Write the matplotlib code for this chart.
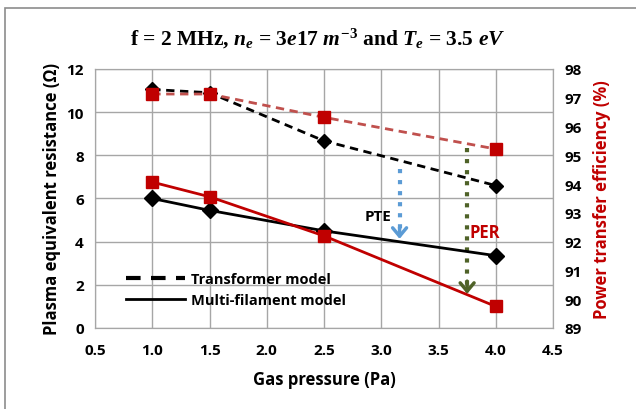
import numpy as np
import matplotlib.pyplot as plt
from matplotlib.lines import Line2D
from matplotlib.patches import Rectangle

plt.rcParams['font.family'] = ['Open Sans', 'DejaVu Sans']
plt.rcParams['mathtext.fontset'] = 'custom'
plt.rcParams['mathtext.rm'] = 'Liberation Serif:bold'
plt.rcParams['mathtext.it'] = 'Liberation Serif:italic:bold'

pressure = [1.0, 1.5, 2.5, 4.0]
# resistance (ohm), left axis
res_transformer = [11.05, 10.9, 8.67, 6.6]
res_filament = [6.0, 5.45, 4.5, 3.35]
# efficiency (%), right axis
eff_transformer = [97.13, 97.13, 96.32, 95.22]
eff_filament = [94.07, 93.56, 92.2, 89.75]

xticks = [0.5, 1.0, 1.5, 2.0, 2.5, 3.0, 3.5, 4.0, 4.5]

fig = plt.figure(figsize=(6.36, 4.10), dpi=100)
fig.patches.append(Rectangle((5/636, -0.1), 1.0, 1.0 - 9/410 + 0.1,
                             transform=fig.transFigure, fill=False,
                             edgecolor='#8c8c8c', lw=1.2))
ax = fig.add_axes([0.1494, 0.1976, 0.7201, 0.6317])
ax2 = ax.twinx()

dark_red = '#C00000'
light_red = '#C0504D'

ax.plot(pressure, res_transformer, color='black', ls=(0, (3, 2)), lw=2,
        marker='D', ms=7, zorder=3)
ax.plot(pressure, res_filament, color='black', ls='-', lw=2,
        marker='D', ms=8, zorder=3)
ax2.plot(pressure, eff_transformer, color=light_red, ls=(0, (3, 2)), lw=2,
         marker='s', ms=9, mfc=dark_red, mec=dark_red, zorder=3)
ax2.plot(pressure, eff_filament, color=dark_red, ls='-', lw=2,
         marker='s', ms=8, mfc=dark_red, mec=dark_red, zorder=3)

# arrows
ax.plot([3.16, 3.16], [7.36, 4.3], color='#5B9BD5', ls=':', lw=3)
ax.annotate('', xy=(3.16, 4.0), xytext=(3.16, 4.8),
            arrowprops=dict(arrowstyle='->,head_length=0.6,head_width=0.5',
                            color='#5B9BD5', lw=2.5))
ax.plot([3.75, 3.75], [8.32, 1.8], color='#4F6228', ls=':', lw=3)
ax.annotate('', xy=(3.75, 1.45), xytext=(3.75, 2.3),
            arrowprops=dict(arrowstyle='->,head_length=0.6,head_width=0.5',
                            color='#4F6228', lw=2.5))
ax.text(2.97, 5.2, 'PTE', fontsize=11, fontweight='bold', ha='center', va='center')
ax.text(3.9, 4.45, 'PER', fontsize=12, fontweight='bold', color=dark_red,
        ha='center', va='center')

ax.set_xlim(0.5, 4.5)
ax.set_ylim(0, 12)
ax2.set_ylim(89, 98)
ax.set_xticks(xticks)
ax.set_xticklabels(['%.1f' % v for v in xticks])
ax.set_yticks(np.arange(0, 13, 2))
ax2.set_yticks(np.arange(89, 99, 1))
ax.grid(True, color='#a6a6a6', lw=1)
ax.set_axisbelow(True)

for a in (ax, ax2):
    for s in a.spines.values():
        s.set_color('#a6a6a6')
    a.tick_params(length=0, labelsize=11, pad=8)
    for lab in a.get_xticklabels() + a.get_yticklabels():
        lab.set_fontweight('bold')
ax.tick_params(axis='x', pad=11)

ax.set_xlabel('Gas pressure (Pa)', fontsize=12, fontweight='bold', labelpad=9)
ax.set_ylabel('Plasma equivalent resistance (Ω)', fontsize=12, fontweight='bold')
ax2.set_ylabel('Power transfer efficiency (%)', fontsize=12, fontweight='bold',
               color=dark_red, labelpad=8)

handles = [Line2D([], [], color='black', ls=(0, (3.5, 2.5)), lw=3),
           Line2D([], [], color='black', ls='-', lw=2)]
ax.legend(handles, ['Transformer model', 'Multi-filament model'],
          loc='lower left', bbox_to_anchor=(0.04, 0.03), frameon=False,
          prop=dict(size=10.5, weight='bold'), handlelength=4,
          handletextpad=0.4, labelspacing=0.5)

fig.text(0.5, 0.905, r'f = 2 MHz, $n_e$ = $3e17$ $m^{-3}$ and $T_e$ = $3.5$ $eV$',
         ha='center', va='center', fontsize=15.5, fontfamily='Liberation Serif',
         fontweight='bold')

fig.savefig('out.png', dpi=100)
